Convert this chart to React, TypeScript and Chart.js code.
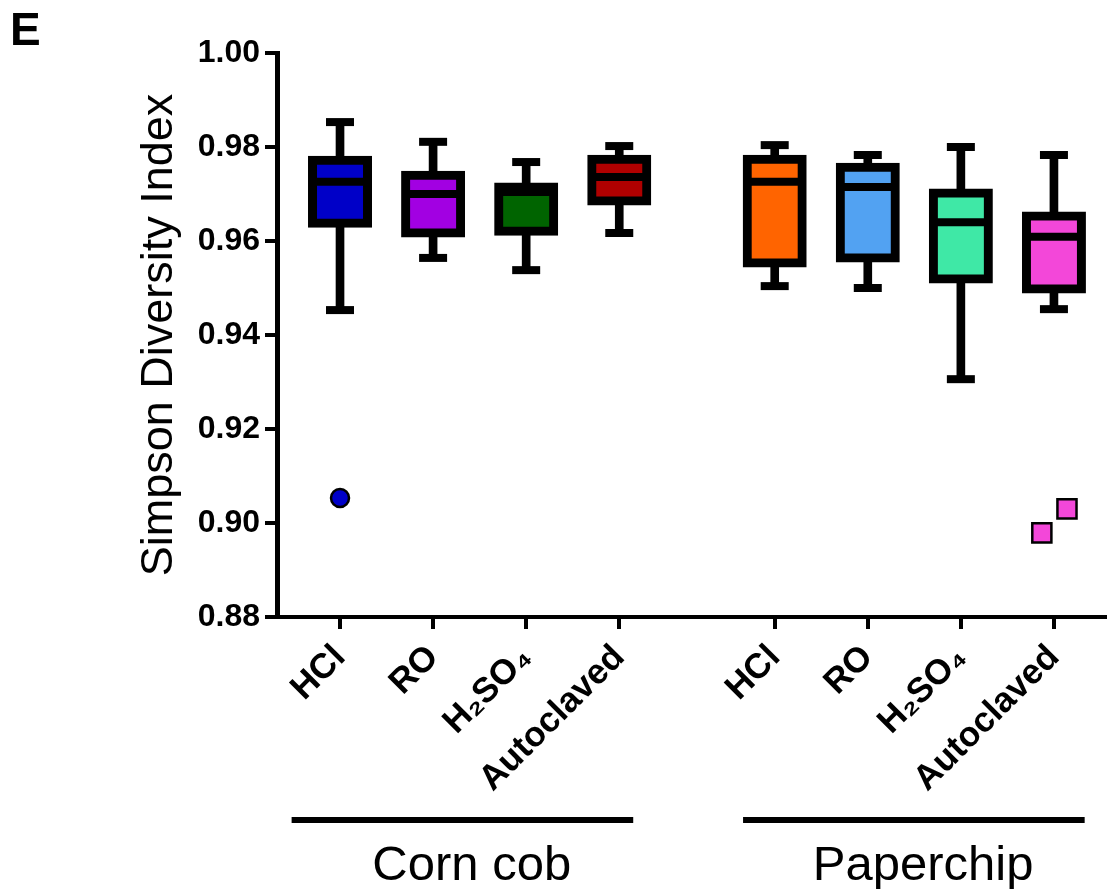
import React, { useEffect, useRef } from 'react';
import { Chart, registerables } from 'chart.js';

Chart.register(...registerables);

// ---- data ----
const categories = ['HCl', 'RO', 'H₂SO₄', 'Autoclaved'];
const groups = ['Corn cob', 'Paperchip'];
const boxLabels = [...categories, ...categories];
const whiskerMin = [0.9453, 0.9564, 0.9538, 0.9617, 0.9504, 0.95, 0.9306, 0.9455];
const quartile1 = [0.9638, 0.9617, 0.9621, 0.9685, 0.9553, 0.9564, 0.9519, 0.9498];
const medians = [0.9726, 0.97, 0.9704, 0.9736, 0.9726, 0.9715, 0.964, 0.9609];
const quartile3 = [0.9772, 0.974, 0.9715, 0.9774, 0.9774, 0.9757, 0.9702, 0.9653];
const whiskerMax = [0.9853, 0.9811, 0.9768, 0.9802, 0.9804, 0.9783, 0.98, 0.9783];
const outliers: number[][] = [[0.9053], [], [], [], [], [], [], [0.8979, 0.903]];
const yTickValues = [0.88, 0.9, 0.92, 0.94, 0.96, 0.98, 1.0];
const boxColors = ['#0000C8', '#A200E2', '#006400', '#B00000', '#FF6400', '#52A2F2', '#3FE8A6', '#F347D9'];

// ---- layout helpers (not data) ----
const GROUP_GAP = 0.67;
const position = (i: number) => 1 + i + (i >= 4 ? GROUP_GAP : 0);
const outlierJitter: number[][] = [[0], [], [], [], [], [], [], [-0.13, 0.14]];
const groupSpans = [
  [0.48, 4.15],
  [5.33, 9.0],
];
const groupLabelShift = 0.1;
const FONT = '"Liberation Sans", Arial, "DejaVu Sans", sans-serif';

export default function App() {
  const ref = useRef<HTMLCanvasElement | null>(null);

  useEffect(() => {
    if (!ref.current) return;
    const positions = boxLabels.map((_, i) => position(i));

    const whiskerData = positions.map((p, i) => ({ x: p, y: [whiskerMin[i], whiskerMax[i]] }));
    const boxData = positions.map((p, i) => ({ x: p, y: [quartile1[i], quartile3[i]] }));
    const medianData = positions.map((p, i) => ({ x: p, y: medians[i] }));
    const capData: { x: number; y: number }[] = [];
    positions.forEach((p, i) => {
      capData.push({ x: p, y: whiskerMin[i] });
      capData.push({ x: p, y: whiskerMax[i] });
    });
    const outlierData: { x: number; y: number }[] = [];
    const outlierColors: string[] = [];
    const outlierStyles: string[] = [];
    const outlierRadius: number[] = [];
    outliers.forEach((vals, i) => {
      vals.forEach((v, j) => {
        outlierData.push({ x: positions[i] + outlierJitter[i][j], y: v });
        outlierColors.push(boxColors[i]);
        outlierStyles.push(i < 4 ? 'circle' : 'rect');
        outlierRadius.push(i < 4 ? 9 : 13.5);
      });
    });

    const decor = {
      id: 'decor',
      afterDraw(chart: any) {
        const { ctx, scales } = chart;
        const xs = scales.x;
        ctx.save();
        ctx.fillStyle = '#000';
        ctx.strokeStyle = '#000';
        groupSpans.forEach(([a, b], gi) => {
          const x1 = xs.getPixelForValue(a);
          const x2 = xs.getPixelForValue(b);
          ctx.lineWidth = 6;
          ctx.beginPath();
          ctx.moveTo(x1, 820);
          ctx.lineTo(x2, 820);
          ctx.stroke();
          ctx.font = `49px ${FONT}`;
          ctx.textAlign = 'center';
          ctx.textBaseline = 'alphabetic';
          ctx.fillText(groups[gi], xs.getPixelForValue((a + b) / 2 + groupLabelShift), 880);
        });
        ctx.font = `bold 46px ${FONT}`;
        ctx.textAlign = 'left';
        ctx.fillText('E', 10, 45);
        ctx.restore();
      },
    };

    const chart = new Chart(ref.current, {
      type: 'bar',
      data: {
        datasets: [
          {
            type: 'bar',
            data: whiskerData as any,
            backgroundColor: '#000',
            borderWidth: 0,
            barThickness: 8,
            grouped: false,
            order: 5,
          } as any,
          {
            type: 'bar',
            data: boxData as any,
            backgroundColor: boxColors,
            borderColor: '#000',
            borderWidth: 9,
            borderSkipped: false,
            inflateAmount: 4.5,
            barThickness: 55,
            grouped: false,
            order: 4,
          } as any,
          {
            type: 'scatter',
            data: medianData,
            pointStyle: 'line',
            pointRadius: 25,
            pointBorderWidth: 8,
            pointBorderColor: '#000',
            order: 2,
          } as any,
          {
            type: 'scatter',
            data: capData,
            pointStyle: 'line',
            pointRadius: 14,
            pointBorderWidth: 8,
            pointBorderColor: '#000',
            order: 2,
          } as any,
          {
            type: 'scatter',
            data: outlierData,
            pointStyle: outlierStyles,
            pointRadius: outlierRadius,
            pointBackgroundColor: outlierColors,
            pointBorderColor: '#000',
            pointBorderWidth: 2.5,
            order: 1,
          } as any,
        ],
      },
      options: {
        responsive: false,
        animation: false,
        events: [],
        layout: { autoPadding: false, padding: { top: 53, left: 0, right: 0, bottom: 0 } },
        plugins: { legend: { display: false }, tooltip: { enabled: false } },
        scales: {
          x: {
            type: 'linear',
            offset: false,
            min: 0.323,
            max: 9.24,
            afterBuildTicks: (scale: any) => {
              scale.ticks = positions.map((v) => ({ value: v }));
            },
            afterFit: (scale: any) => {
              scale.height = 272;
              scale.paddingLeft = 0;
              scale.paddingRight = 0;
            },
            ticks: {
              autoSkip: false,
              minRotation: 45,
              maxRotation: 45,
              padding: 8,
              color: '#000',
              font: { family: FONT, size: 35, weight: 'bold' },
              callback: (_v: any, i: number) => boxLabels[i],
            },
            grid: {
              offset: false,
              drawOnChartArea: false,
              tickLength: 12,
              lineWidth: 4,
              color: '#000',
            },
            border: { display: true, color: '#000', width: 4 },
          },
          y: {
            type: 'linear',
            min: 0.88,
            max: 1.0,
            afterBuildTicks: (scale: any) => {
              scale.ticks = yTickValues.map((v) => ({ value: v }));
            },
            afterFit: (scale: any) => {
              scale.width = 277;
            },
            ticks: {
              padding: 5,
              color: '#000',
              font: { family: FONT, size: 32, weight: 'bold' },
              callback: (v: any) => Number(v).toFixed(2),
            },
            grid: {
              drawOnChartArea: false,
              tickLength: 12,
              lineWidth: 4,
              color: '#000',
            },
            border: { display: true, color: '#000', width: 5 },
            title: {
              display: true,
              text: 'Simpson Diversity Index',
              color: '#000',
              font: { family: FONT, size: 45, weight: 'normal' },
              padding: { top: 133, bottom: 0 },
            },
          },
        },
      },
      plugins: [decor],
    } as any);

    return () => chart.destroy();
  }, []);

  return (
    <div style={{ position: 'absolute', left: 0, top: 0, width: 1107, height: 889, background: '#fff', overflow: 'hidden' }}>
      <canvas ref={ref} width={1107} height={889} style={{ display: 'block' }} />
    </div>
  );
}
